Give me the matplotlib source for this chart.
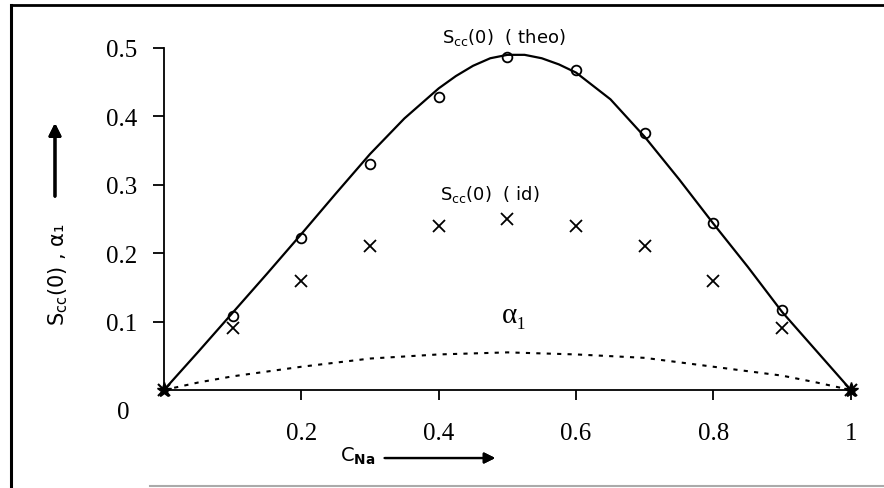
import numpy as np
import matplotlib.pyplot as plt
from matplotlib.lines import Line2D

plt.rcParams['mathtext.fontset'] = 'dejavusans'

# concentration grid
c_pts = [0.1, 0.2, 0.3, 0.4, 0.5, 0.6, 0.7, 0.8, 0.9]
# circles (theo points) and crosses (ideal)
scc_circ = [0.108, 0.222, 0.331, 0.428, 0.487, 0.468, 0.376, 0.244, 0.117]
scc_id = [0.09, 0.16, 0.21, 0.24, 0.25, 0.24, 0.21, 0.16, 0.09]

# theoretical curve
c_line = [0.0, 0.05, 0.1, 0.15, 0.2, 0.25, 0.3, 0.35, 0.4, 0.425, 0.45, 0.475, 0.5,
          0.525, 0.55, 0.575, 0.6, 0.65, 0.7, 0.75, 0.8, 0.85, 0.9, 0.95, 1.0]
scc_theo = [0.0, 0.056, 0.113, 0.17, 0.228, 0.287, 0.345, 0.397, 0.441, 0.459, 0.474,
            0.485, 0.490, 0.490, 0.485, 0.476, 0.464, 0.425, 0.37, 0.308, 0.243, 0.18,
            0.114, 0.057, 0.0]

# alpha_1 (dotted)
c_alpha = [0.0, 0.05, 0.1, 0.2, 0.3, 0.4, 0.5, 0.6, 0.7, 0.8, 0.9, 0.95, 1.0]
alpha1 = [0.0, 0.011, 0.02, 0.034, 0.046, 0.052, 0.055, 0.052, 0.047, 0.034, 0.021, 0.011, 0.0]

# end points
c_end = [0.0, 1.0]
s_end = [0.0, 0.0]

xticks = [0.2, 0.4, 0.6, 0.8, 1.0]
xlabels = ['0.2', '0.4', '0.6', '0.8', '1']
yticks = [0.1, 0.2, 0.3, 0.4, 0.5]
ylabels = ['0.1', '0.2', '0.3', '0.4', '0.5']

fig = plt.figure(figsize=(8.84, 4.89), dpi=100)
ax = fig.add_axes([0.1855, 0.2004, 0.777, 0.6994])

ax.plot(c_line, scc_theo, color='black', lw=1.6, clip_on=False)
ax.plot(c_alpha, alpha1, color='black', lw=1.5, linestyle=(0, (2, 3)), clip_on=False)
ax.plot(c_pts, scc_circ, 'o', mfc='none', mec='black', ms=7, mew=1.3)
ax.plot(c_pts, scc_id, 'x', color='black', ms=8, mew=1.3)
ax.plot(c_end, s_end, '*', color='black', ms=11, clip_on=False, zorder=5)
ax.plot(c_end, s_end, 'x', color='black', ms=9, mew=1.5, clip_on=False, zorder=5)

ax.set_xlim(0, 1)
ax.set_ylim(0, 0.5)
ax.spines['top'].set_visible(False)
ax.spines['right'].set_visible(False)
ax.spines['left'].set_linewidth(1.3)
ax.spines['bottom'].set_linewidth(1.3)

ax.set_xticks(xticks)
ax.set_xticklabels(xlabels, family='Liberation Serif', fontsize=18)
ax.set_yticks(yticks)
ax.set_yticklabels(ylabels, family='Liberation Serif', fontsize=18)
ax.tick_params(axis='y', direction='out', length=8, width=1.3, pad=11)
ax.tick_params(axis='x', direction='out', length=7, width=1.3, pad=16)

# curve labels
ax.text(0.405, 0.509, r'S$_{\rm cc}$(0)  ( theo)', fontsize=13, family='DejaVu Sans',
        va='baseline', clip_on=False)
ax.text(0.402, 0.279, r'S$_{\rm cc}$(0)  ( id)', fontsize=13, family='DejaVu Sans',
        va='baseline')
ax.text(0.492, 0.099, 'α₁', fontsize=21, family=['Liberation Serif', 'DejaVu Serif'],
        va='baseline')

# lone zero in the corner
fig.text(0.139, 0.155, '0', family='Liberation Serif', fontsize=18, ha='center', va='center')

# axis labels with arrows
fig.text(0.0656, 0.4376, 'S$_{\\rm cc}$(0) , α₁', rotation=90, fontsize=15,
         family=['DejaVu Sans'], ha='center', va='center')
fig.add_artist(plt.annotate('', xy=(0.0622, 0.752), xytext=(0.0622, 0.591),
                            xycoords='figure fraction',
                            arrowprops=dict(arrowstyle='-|>', color='black', lw=2.2,
                                            mutation_scale=18)))
fig.text(0.3846, 0.055, r'C$_{\bf Na}$', fontsize=14, family='DejaVu Sans', va='baseline')
fig.add_artist(plt.annotate('', xy=(0.5633, 0.0613), xytext=(0.432, 0.0613),
                            xycoords='figure fraction',
                            arrowprops=dict(arrowstyle='-|>', color='black', lw=1.6,
                                            mutation_scale=16)))

# frame lines around the picture
fig.add_artist(Line2D([0.012, 0.012], [0.0, 0.988], color='black', lw=2.2))
fig.add_artist(Line2D([0.012, 1.0], [0.988, 0.988], color='black', lw=2.0))
fig.add_artist(Line2D([0.17, 1.0], [0.004, 0.004], color='#aaaaaa', lw=1.5))

fig.savefig('out.png', dpi=100)
